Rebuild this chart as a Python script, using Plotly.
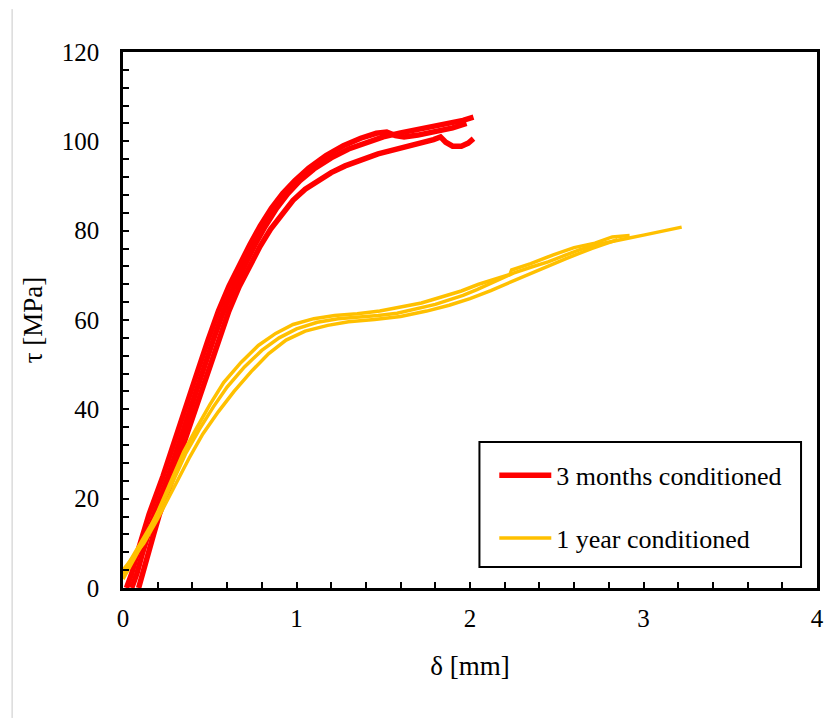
import plotly.graph_objects as go

# ---- data: 3 months conditioned (red) ----
red_a_x = [0.02, 0.05, 0.08, 0.11, 0.15, 0.23, 0.30, 0.37, 0.43, 0.49, 0.55, 0.61, 0.67, 0.73, 0.79, 0.855, 0.92, 0.99, 1.07, 1.17, 1.27, 1.37, 1.46, 1.52, 1.57, 1.62, 1.70, 1.80, 1.90, 1.98]
red_a_y = [0, 3.2, 7.5, 11.8, 16.5, 25, 33.5, 41.5, 48.5, 55.5, 62, 67.5, 72.3, 76.8, 81, 85, 88.3, 91.2, 94, 96.8, 99, 100.7, 101.8, 102.1, 101.3, 101.0, 101.4, 102.2, 103.0, 104.0]
red_b_x = [0.05, 0.08, 0.11, 0.14, 0.18, 0.26, 0.33, 0.40, 0.46, 0.52, 0.58, 0.64, 0.70, 0.76, 0.82, 0.885, 0.95, 1.02, 1.10, 1.20, 1.30, 1.40, 1.50, 1.60, 1.70, 1.80, 1.90, 1.96, 2.02]
red_b_y = [0, 3.2, 7.5, 11.8, 16.5, 25, 33.5, 41.5, 48.5, 55.5, 62, 67.5, 72.3, 76.8, 81, 85, 88.3, 91.2, 93.8, 96.3, 98.3, 99.8, 101.0, 101.9, 102.6, 103.3, 104.1, 104.7, 105.4]
red_c_x = [0.09, 0.115, 0.145, 0.175, 0.21, 0.29, 0.36, 0.43, 0.49, 0.55, 0.61, 0.67, 0.73, 0.79, 0.85, 0.915, 0.98, 1.05, 1.12, 1.20, 1.28, 1.38, 1.47, 1.56, 1.64, 1.72, 1.79, 1.83, 1.86, 1.90, 1.95, 1.99, 2.02]
red_c_y = [0, 3.2, 7.5, 11.8, 16.5, 25, 33.5, 41.5, 48.5, 55.5, 62, 67.5, 72.3, 76.5, 80.3, 83.8, 86.8, 89.3, 91.2, 93, 94.5, 96, 97.2, 98.1, 98.8, 99.6, 100.4, 101.0, 99.8, 98.9, 98.9, 99.6, 100.6]

# ---- data: 1 year conditioned (yellow) ----
yel_a_x = [0.00, 0.04, 0.10, 0.19, 0.29, 0.36, 0.44, 0.52, 0.60, 0.70, 0.80, 0.90, 1.00, 1.12, 1.24, 1.35, 1.47, 1.58, 1.70, 1.80, 1.88, 1.96, 2.04, 2.15, 2.25, 2.35, 2.45, 2.55, 2.63, 2.72, 2.80, 2.91, 3.00, 3.10, 3.22]
yel_a_y = [3.0, 6.0, 10.0, 16.0, 24.0, 30.0, 35.5, 40.5, 45.0, 49.5, 53.2, 56.0, 58.0, 59.5, 60.3, 60.6, 61.0, 61.5, 62.5, 63.5, 64.5, 65.5, 66.8, 68.8, 70.5, 71.8, 73.0, 74.5, 75.7, 76.8, 77.5, 78.3, 79.0, 79.8, 80.8]
yel_b_x = [0.00, 0.05, 0.12, 0.20, 0.28, 0.35, 0.42, 0.50, 0.58, 0.68, 0.78, 0.88, 0.98, 1.10, 1.22, 1.35, 1.48, 1.60, 1.72, 1.84, 1.95, 2.05, 2.15, 2.23, 2.24, 2.35, 2.48, 2.60, 2.72, 2.82, 2.92]
yel_b_y = [2.0, 5.5, 10.5, 17.0, 24.0, 30.5, 35.5, 41.0, 46.0, 50.5, 54.3, 57.0, 59.0, 60.3, 61.0, 61.4, 62.0, 62.8, 63.8, 65.2, 66.5, 68.0, 69.3, 70.2, 71.2, 72.6, 74.6, 76.2, 77.2, 78.6, 78.9]
yel_c_x = [0.00, 0.05, 0.12, 0.20, 0.30, 0.38, 0.46, 0.55, 0.64, 0.74, 0.84, 0.94, 1.05, 1.18, 1.30, 1.45, 1.60, 1.75, 1.88, 2.00, 2.12, 2.25, 2.40, 2.55, 2.70, 2.85]
yel_c_y = [4.0, 6.5, 10.0, 15.5, 23.0, 29.0, 34.5, 39.5, 44.0, 48.5, 52.5, 55.5, 57.5, 58.8, 59.6, 60.1, 60.8, 62.0, 63.3, 64.8, 66.6, 68.8, 71.3, 73.7, 76.0, 78.0]

series_names = ["3 months conditioned", "1 year conditioned"]
x_ticks = [0, 1, 2, 3, 4]
y_ticks = [0, 20, 40, 60, 80, 100, 120]

RED = "#FF0000"
YEL = "#FFC000"
FONT = "Times New Roman, Liberation Serif, Times, serif"

fig = go.Figure()
for i, (xs, ys) in enumerate([(red_a_x, red_a_y), (red_b_x, red_b_y), (red_c_x, red_c_y)]):
    fig.add_trace(go.Scatter(x=xs, y=ys, mode="lines", line=dict(color=RED, width=5.5),
                             name=series_names[0], legendgroup="r", showlegend=(i == 0)))
for i, (xs, ys) in enumerate([(yel_a_x, yel_a_y), (yel_b_x, yel_b_y), (yel_c_x, yel_c_y)]):
    fig.add_trace(go.Scatter(x=xs, y=ys, mode="lines", line=dict(color=YEL, width=3.5),
                             name=series_names[1], legendgroup="y", showlegend=(i == 0)))

axis_common = dict(showline=True, linecolor="black", linewidth=2.5, mirror=True,
                   ticks="inside", ticklen=6, tickwidth=1.5, tickcolor="black",
                   showgrid=False, zeroline=False,
                   tickfont=dict(family=FONT, size=25, color="black"))

fig.update_xaxes(range=[0, 4], tickvals=x_ticks, ticklabelstandoff=6,
                 minor=dict(dtick=0.2, ticks="inside", ticklen=6, tickwidth=1.5, tickcolor="black"),
                 title=dict(text="δ [mm]", font=dict(family=FONT, size=27, color="black"), standoff=26),
                 **axis_common)
fig.update_yaxes(range=[0, 120], tickvals=y_ticks, ticklabelstandoff=16,
                 minor=dict(dtick=4, ticks="inside", ticklen=6, tickwidth=1.5, tickcolor="black"),
                 title=dict(text="τ [MPa]", font=dict(family=FONT, size=27, color="black"), standoff=12),
                 **axis_common)

fig.update_layout(
    width=830, height=718,
    margin=dict(l=123, r=6, t=52, b=130),
    paper_bgcolor="white", plot_bgcolor="white",
    showlegend=True,
    legend=dict(x=0.535, y=0.254, xanchor="left", yanchor="top",
                bgcolor="rgba(0,0,0,0)", borderwidth=0, itemwidth=52,
                traceorder="grouped", tracegroupgap=26,
                font=dict(family=FONT, size=26, color="black")),
    shapes=[
        dict(type="rect", xref="paper", yref="paper", x0=0.5136, x1=0.977, y0=0.039, y1=0.2724,
             line=dict(color="black", width=2), fillcolor="rgba(0,0,0,0)"),
        dict(type="line", xref="paper", yref="paper", x0=-0.1598, x1=-0.1598, y0=-0.2425, y1=1.08,
             line=dict(color="#c8c8c8", width=1)),
    ],
)

fig.write_html("out.html")
